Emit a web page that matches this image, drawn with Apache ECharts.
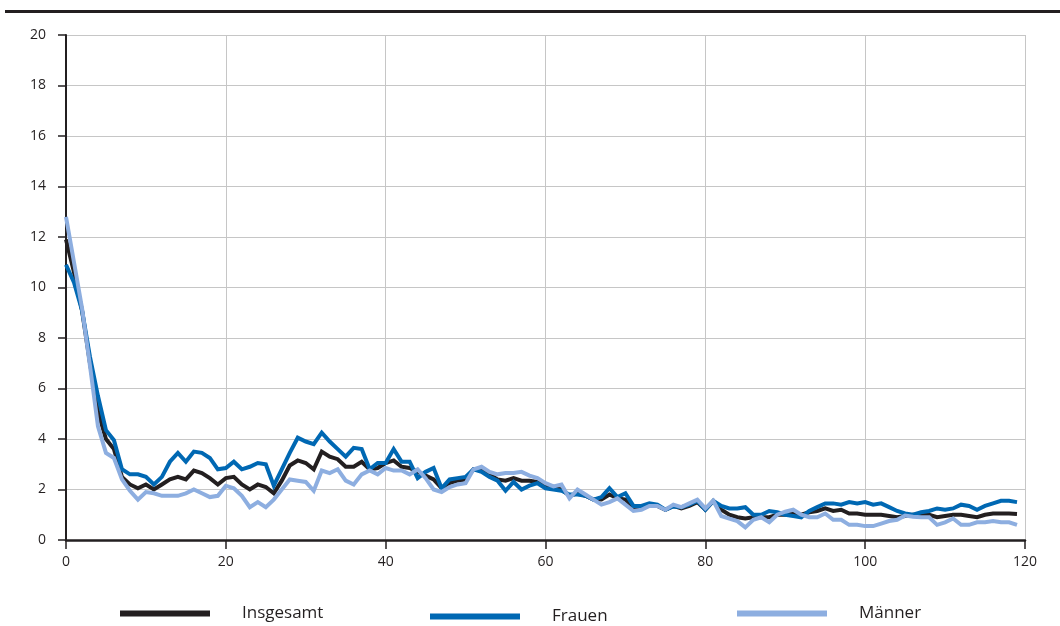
<!DOCTYPE html>
<html>
<head>
<meta charset="utf-8">
<script src="https://cdn.jsdelivr.net/npm/echarts@6/dist/echarts.min.js"></script>
<style>
html,body{margin:0;padding:0;background:#fff;}
#chart{width:1060px;height:626px;}
</style>
</head>
<body>
<div id="chart"></div>
<script>
var seriesNames = ['Insgesamt', 'Frauen', 'Männer'];
var xTicks = [0, 20, 40, 60, 80, 100, 120];
var yTicks = [0, 2, 4, 6, 8, 10, 12, 14, 16, 18, 20];

var insgesamt = [
 11.9, 10.6, 9.1, 7.0, 5.1, 4.0, 3.6, 2.5, 2.2, 2.05,
 2.2, 2.0, 2.2, 2.4, 2.5, 2.4, 2.75, 2.65, 2.45, 2.2,
 2.45, 2.5, 2.2, 2.0, 2.2, 2.1, 1.85, 2.35, 2.95, 3.15,
 3.05, 2.8, 3.5, 3.3, 3.2, 2.9, 2.9, 3.1, 2.8, 2.85,
 3.05, 3.15, 2.9, 2.85, 2.7, 2.55, 2.4, 2.05, 2.25, 2.35,
 2.4, 2.8, 2.8, 2.6, 2.4, 2.35, 2.45, 2.35, 2.35, 2.3,
 2.2, 2.05, 2.0, 1.75, 1.85, 1.75, 1.6, 1.6, 1.8, 1.65,
 1.6, 1.2, 1.25, 1.4, 1.35, 1.2, 1.35, 1.25, 1.35, 1.5,
 1.2, 1.55, 1.2, 1.0, 0.9, 0.85, 0.9, 0.9, 0.9, 1.0,
 1.0, 1.05, 1.0, 1.1, 1.15, 1.25, 1.15, 1.2, 1.05, 1.05,
 1.0, 1.0, 1.0, 0.95, 0.9, 0.95, 1.0, 1.0, 1.0, 0.9,
 0.95, 1.0, 1.0, 0.95, 0.9, 1.0, 1.05, 1.05, 1.05, 1.03
];
var frauen = [
 10.9, 10.2, 9.1, 7.25, 5.7, 4.35, 3.95, 2.8, 2.6, 2.6,
 2.5, 2.2, 2.5, 3.1, 3.45, 3.1, 3.5, 3.45, 3.25, 2.8,
 2.85, 3.1, 2.8, 2.9, 3.05, 3.0, 2.15, 2.8, 3.45, 4.05,
 3.9, 3.8, 4.25, 3.9, 3.6, 3.3, 3.65, 3.6, 2.8, 3.05,
 3.05, 3.6, 3.1, 3.1, 2.45, 2.7, 2.85, 2.05, 2.4, 2.45,
 2.5, 2.8, 2.7, 2.5, 2.35, 1.95, 2.3, 2.0, 2.15, 2.25,
 2.05, 2.0, 1.95, 1.8, 1.8, 1.75, 1.6, 1.7, 2.05, 1.7,
 1.85, 1.35, 1.35, 1.45, 1.4, 1.2, 1.33, 1.3, 1.4, 1.55,
 1.2, 1.55, 1.35, 1.25, 1.25, 1.3, 1.0, 1.0, 1.15, 1.1,
 1.0, 0.95, 0.9, 1.15, 1.3, 1.45, 1.45, 1.4, 1.5, 1.45,
 1.5, 1.4, 1.45, 1.3, 1.15, 1.05, 1.0, 1.1, 1.15, 1.25,
 1.2, 1.25, 1.4, 1.35, 1.2, 1.35, 1.45, 1.55, 1.55, 1.5
];
var maenner = [
 12.8, 11.0, 9.2, 6.9, 4.5, 3.45, 3.25, 2.4, 1.95, 1.6,
 1.9, 1.85, 1.75, 1.75, 1.75, 1.85, 2.0, 1.85, 1.7, 1.75,
 2.15, 2.05, 1.75, 1.3, 1.5, 1.3, 1.6, 2.0, 2.4, 2.35,
 2.3, 1.95, 2.75, 2.65, 2.8, 2.35, 2.2, 2.6, 2.75, 2.6,
 2.85, 2.75, 2.75, 2.6, 2.8, 2.45, 2.0, 1.9, 2.1, 2.2,
 2.25, 2.8, 2.9, 2.7, 2.6, 2.65, 2.65, 2.7, 2.55, 2.45,
 2.25, 2.12, 2.2, 1.65, 2.0, 1.8, 1.6, 1.4, 1.5, 1.65,
 1.4, 1.15, 1.2, 1.35, 1.35, 1.2, 1.4, 1.3, 1.45, 1.6,
 1.25, 1.55, 0.95, 0.85, 0.75, 0.5, 0.8, 0.9, 0.7, 1.0,
 1.12, 1.2, 1.0, 0.9, 0.9, 1.05, 0.8, 0.8, 0.6, 0.6,
 0.55, 0.55, 0.65, 0.75, 0.8, 0.97, 0.92, 0.9, 0.9, 0.6,
 0.7, 0.85, 0.6, 0.6, 0.7, 0.7, 0.75, 0.7, 0.7, 0.6
];

var colors = ['#231f20', '#0068b3', '#8daee0'];
function pairs(arr){ return arr.map(function(v,i){ return [i, v]; }); }
var seriesData = [insgesamt, frauen, maenner];

var font = '"Open Sans", "Noto Sans", sans-serif';
var chart = echarts.init(document.getElementById('chart'), null, {renderer:'canvas'});

var legendBase = {
  orient: 'horizontal', icon: 'rect', itemWidth: 90, itemHeight: 6, padding: 0,
  textStyle: {fontFamily: font, fontSize: 17, color: '#231f20', padding: [0,0,0,27]},
  selectedMode: false
};

chart.setOption({
  animation: false,
  backgroundColor: '#ffffff',
  color: colors,
  grid: {left: 66, right: 35, top: 35, bottom: 86, containLabel: false},
  graphic: [
    {type: 'rect', shape: {x: 5, y: 10, width: 1055, height: 3}, style: {fill: '#231f20'}, silent: true}
  ],
  legend: [
    Object.assign({}, legendBase, {data: [seriesNames[0]], left: 120, top: 605}),
    Object.assign({}, legendBase, {data: [seriesNames[1]], left: 430, top: 608}),
    Object.assign({}, legendBase, {data: [seriesNames[2]], left: 737, top: 605})
  ],
  xAxis: {
    type: 'value', min: xTicks[0], max: xTicks[xTicks.length-1], interval: 20,
    axisLine: {show: true, onZero: false, lineStyle: {color: '#231f20', width: 2.5}},
    axisTick: {show: true, length: 9, lineStyle: {color: '#231f20', width: 1.5}},
    axisLabel: {fontFamily: font, fontSize: 14, color: '#231f20', margin: 15},
    splitLine: {show: true, lineStyle: {color: '#c6c6c6', width: 1}}
  },
  yAxis: {
    type: 'value', min: yTicks[0], max: yTicks[yTicks.length-1], interval: 2,
    axisLine: {show: true, lineStyle: {color: '#231f20', width: 2}},
    axisTick: {show: true, length: 8, lineStyle: {color: '#231f20', width: 1.5}},
    axisLabel: {fontFamily: font, fontSize: 14, color: '#231f20', margin: 20},
    splitLine: {show: true, lineStyle: {color: '#c6c6c6', width: 1}}
  },
  series: seriesNames.map(function(name, i){
    return {
      name: name, type: 'line', data: pairs(seriesData[i]),
      showSymbol: false, symbol: 'none', smooth: false,
      lineStyle: {color: colors[i], width: 4, join: 'miter'},
      itemStyle: {color: colors[i]},
      z: 2 + i
    };
  })
});
</script>
</body>
</html>
